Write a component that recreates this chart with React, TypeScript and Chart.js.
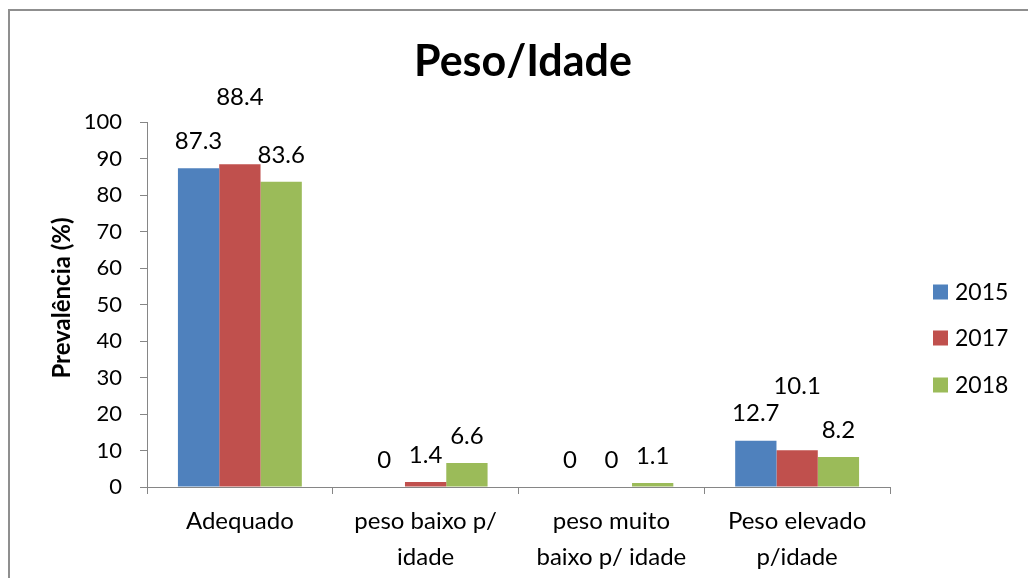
import React, { useEffect, useRef } from "react";
import { Chart, registerables } from "chart.js";

Chart.register(...registerables);

const TITLE = "Peso/Idade";
const Y_TITLE = "Prevalência (%)";
const CATEGORIES: string[][] = [
  ["Adequado"],
  ["peso baixo p/", "idade"],
  ["peso muito", "baixo p/ idade"],
  ["Peso elevado", "p/idade"],
];
const SERIES_NAMES = ["2015", "2017", "2018"];
const VALUES_2015 = [87.3, 0, 0, 12.7];
const VALUES_2017 = [88.4, 1.4, 0, 10.1];
const VALUES_2018 = [83.6, 6.6, 1.1, 8.2];
const COLORS = ["#4F81BD", "#C0504D", "#9BBB59"];
const Y_MIN = 0;
const Y_MAX = 100;
const Y_STEP = 10;

// extra upward shift of some data labels (manually moved in the original)
const LABEL_EXTRA = [
  [0, 0, 0, 0],
  [40, 0, 0, 37],
  [0, 0, 0, 0],
];

const FONT = "Lato, 'Open Sans', sans-serif";

const decorPlugin = {
  id: "decor",
  beforeDraw(chart: any) {
    const ctx = chart.ctx;
    ctx.save();
    ctx.fillStyle = "#ffffff";
    ctx.fillRect(0, 0, chart.width, chart.height);
    ctx.strokeStyle = "#8f8f8f";
    ctx.lineWidth = 2;
    ctx.beginPath();
    ctx.moveTo(9, chart.height + 5);
    ctx.lineTo(9, 10);
    ctx.lineTo(chart.width + 5, 10);
    ctx.stroke();
    ctx.restore();
  },
  afterDraw(chart: any) {
    const ctx = chart.ctx;
    ctx.save();
    ctx.fillStyle = "#000000";
    // title
    ctx.font = `bold 43px ${FONT}`;
    ctx.textAlign = "center";
    ctx.textBaseline = "middle";
    ctx.fillText(TITLE, 523, 62);
    // y axis title
    ctx.save();
    ctx.translate(62, 298);
    ctx.rotate(-Math.PI / 2);
    ctx.font = `bold 24px ${FONT}`;
    ctx.fillText(Y_TITLE, 0, 0);
    ctx.restore();
    // data labels
    ctx.font = `24px ${FONT}`;
    chart.data.datasets.forEach((ds: any, di: number) => {
      const meta = chart.getDatasetMeta(di);
      meta.data.forEach((el: any, i: number) => {
        const v = ds.data[i];
        ctx.fillText(String(v), el.x, el.y - 27 - LABEL_EXTRA[di][i]);
      });
    });
    // legend
    const legendY = [292, 338, 385];
    ctx.textAlign = "left";
    ctx.font = `23px ${FONT}`;
    chart.data.datasets.forEach((ds: any, di: number) => {
      ctx.fillStyle = ds.backgroundColor;
      ctx.fillRect(933, legendY[di] - 7.5, 15, 15);
      ctx.fillStyle = "#000000";
      ctx.fillText(ds.label, 955, legendY[di] + 1);
    });
    ctx.restore();
  },
};

export default function App() {
  const ref = useRef<HTMLCanvasElement | null>(null);
  useEffect(() => {
    if (!ref.current) return;
    const chart = new Chart(ref.current, {
      type: "bar",
      data: {
        labels: CATEGORIES,
        datasets: [VALUES_2015, VALUES_2017, VALUES_2018].map((vals, i) => ({
          label: SERIES_NAMES[i],
          data: vals,
          backgroundColor: COLORS[i],
          borderWidth: 0,
          categoryPercentage: 0.667,
          barPercentage: 1,
        })),
      },
      options: {
        responsive: false,
        animation: false,
        layout: { padding: { top: 122, right: 138, bottom: 0, left: 0 } },
        plugins: {
          legend: { display: false },
          title: { display: false },
          tooltip: { enabled: false },
        },
        scales: {
          x: {
            afterFit: (s: any) => {
              s.height = 91;
            },
            grid: {
              offset: true,
              drawOnChartArea: false,
              drawTicks: true,
              tickLength: 7,
              color: "#868686",
            },
            border: { display: true, color: "#868686" },
            ticks: {
              color: "#000000",
              padding: 9,
              maxRotation: 0,
              autoSkip: false,
              font: { family: FONT, size: 24, lineHeight: 1.5 },
            },
          },
          y: {
            min: Y_MIN,
            max: Y_MAX,
            afterFit: (s: any) => {
              s.width = 147;
            },
            grid: {
              drawOnChartArea: false,
              drawTicks: true,
              tickLength: 7,
              color: "#868686",
            },
            border: { display: true, color: "#868686" },
            ticks: {
              stepSize: Y_STEP,
              color: "#000000",
              padding: 18,
              font: { family: FONT, size: 22 },
            },
          },
        },
      },
      plugins: [decorPlugin],
    });
    return () => chart.destroy();
  }, []);
  return (
    <div style={{ position: "absolute", left: 0, top: 0, width: 1028, height: 578 }}>
      <canvas ref={ref} width={1028} height={578} style={{ display: "block" }} />
    </div>
  );
}
